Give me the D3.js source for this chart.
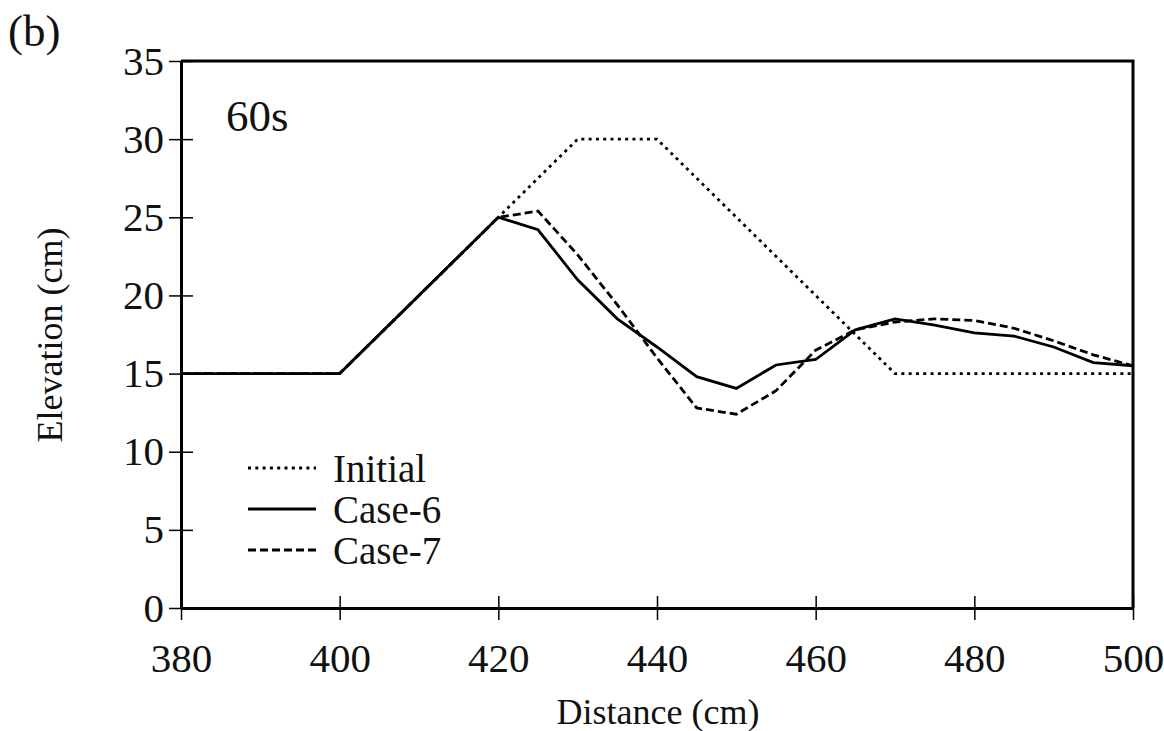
<!DOCTYPE html>
<html>
<head>
<meta charset="utf-8">
<script src="https://cdn.jsdelivr.net/npm/d3@7"></script>
<style>
  body { margin: 0; background: #fff; }
  text { font-family: "Liberation Serif", "Times New Roman", serif; fill: #111; }
</style>
</head>
<body>
<div id="chart"></div>
<script>
// profile positions (cm)
const xInitial = [380, 400, 420, 430, 440, 470, 500];
const zInitial = [15, 15, 25, 30, 30, 15, 15];

const xCase = [380, 400, 420, 425, 430, 435, 440, 445, 450, 455, 460, 465, 470, 475, 480, 485, 490, 495, 500];
const zCase6 = [15, 15, 25, 24.2, 21.0, 18.5, 16.7, 14.8, 14.05, 15.55, 15.9, 17.8, 18.5, 18.1, 17.6, 17.4, 16.7, 15.7, 15.5];
const zCase7 = [15, 15, 25, 25.4, 22.6, 19.4, 16.0, 12.8, 12.4, 13.9, 16.5, 17.8, 18.3, 18.5, 18.4, 17.9, 17.1, 16.2, 15.5];

const xTicks = [380, 400, 420, 440, 460, 480, 500];
const yTicks = [0, 5, 10, 15, 20, 25, 30, 35];

const series = [
    { name: "Initial", xs: xInitial, zs: zInitial, dash: "3,4.3", width: 2.8 },
    { name: "Case-6", xs: xCase, zs: zCase6, dash: null, width: 2.8 },
    { name: "Case-7", xs: xCase, zs: zCase7, dash: "8,4", width: 2.8 }
];

const W = 1164, H = 731;
const plot = { left: 181, right: 1133, top: 61, bottom: 608 };

const svg = d3.select("#chart").append("svg")
    .attr("width", W)
    .attr("height", H);

const x = d3.scaleLinear().domain([380, 500]).range([plot.left, plot.right]);
const y = d3.scaleLinear().domain([0, 35]).range([plot.bottom, plot.top]);

const line = d3.line()
    .x(d => x(d[0]))
    .y(d => y(d[1]));

// frame: top and right edges
svg.append("path")
    .attr("d", `M${plot.left},${plot.top}H${plot.right}V${plot.bottom}`)
    .attr("fill", "none")
    .attr("stroke", "#000")
    .attr("stroke-width", 3);

// data lines
svg.append("g")
    .selectAll("path")
    .data(series)
    .join("path")
    .attr("d", s => line(s.xs.map((v, i) => [v, s.zs[i]])))
    .attr("fill", "none")
    .attr("stroke", "#000")
    .attr("stroke-width", s => s.width)
    .attr("stroke-dasharray", s => s.dash)
    .attr("stroke-linejoin", "miter");

// axes with ticks crossing the axis line
const xAxis = svg.append("g")
    .attr("transform", `translate(0,${plot.bottom})`)
    .call(d3.axisBottom(x).tickValues(xTicks).tickSize(12).tickSizeOuter(0).tickPadding(23));
xAxis.selectAll(".tick line").attr("y1", -12).attr("stroke-width", 1.5);
xAxis.select(".domain").attr("stroke-width", 3);
xAxis.selectAll("text").style("font-size", "41px");

const yAxis = svg.append("g")
    .attr("transform", `translate(${plot.left},0)`)
    .call(d3.axisLeft(y).tickValues(yTicks).tickSize(12).tickSizeOuter(0).tickPadding(5));
yAxis.selectAll(".tick line").attr("x1", 12).attr("x2", -12).attr("stroke-width", 1.5);
yAxis.select(".domain").attr("stroke-width", 3);
yAxis.selectAll("text").style("font-size", "41px");

// axis titles
svg.append("text")
    .attr("x", 658)
    .attr("y", 724)
    .attr("text-anchor", "middle")
    .style("font-size", "36px")
    .text("Distance (cm)");

svg.append("text")
    .attr("transform", "translate(62,335) rotate(-90)")
    .attr("text-anchor", "middle")
    .style("font-size", "36px")
    .text("Elevation (cm)");

// panel label and time stamp
svg.append("text")
    .attr("x", 8)
    .attr("y", 46)
    .style("font-size", "45px")
    .text("(b)");

svg.append("text")
    .attr("x", 226)
    .attr("y", 131)
    .style("font-size", "45px")
    .text("60s");

// legend
const legend = svg.append("g")
    .selectAll("g")
    .data(series)
    .join("g")
    .attr("transform", (s, i) => `translate(248,${468 + i * 41})`);

legend.append("line")
    .attr("x1", 0)
    .attr("x2", 68)
    .attr("stroke", "#000")
    .attr("stroke-width", s => s.width)
    .attr("stroke-dasharray", s => s.dash);

legend.append("text")
    .attr("x", 85)
    .attr("dy", "0.35em")
    .style("font-size", "39px")
    .text(s => s.name);
</script>
</body>
</html>
